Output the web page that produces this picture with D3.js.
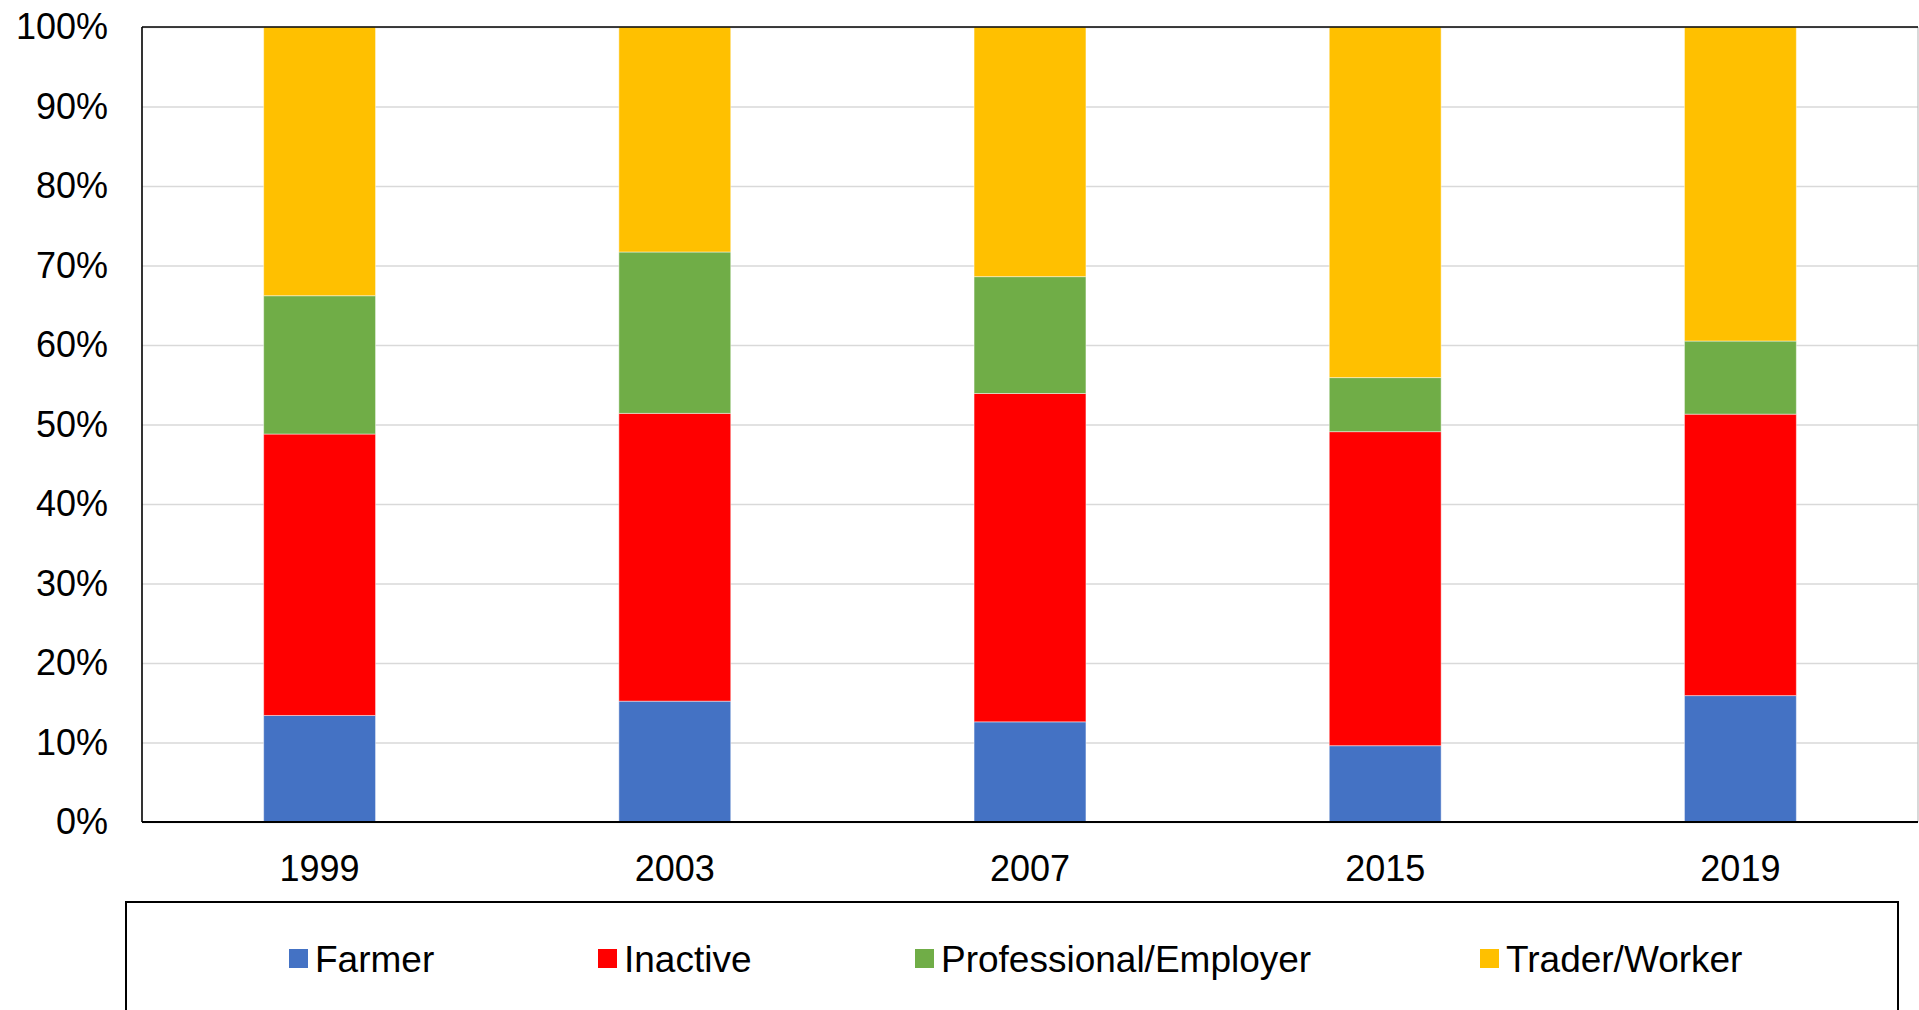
<!DOCTYPE html>
<html>
<head>
<meta charset="utf-8">
<script src="https://cdn.jsdelivr.net/npm/d3@7"></script>
<style>
  html, body { margin: 0; padding: 0; background: #fff; }
  svg { display: block; font-family: "Liberation Sans", Arial, sans-serif; }
</style>
</head>
<body>
<svg id="chart" width="1919" height="1010"></svg>
<script>
const years = ["1999", "2003", "2007", "2015", "2019"];
const seriesNames = ["Farmer", "Inactive", "Professional/Employer", "Trader/Worker"];
const farmer       = [13.4, 15.2, 12.6,  9.6, 15.9];
const inactive     = [35.4, 36.2, 41.3, 39.5, 35.4];
const professional = [17.4, 20.3, 14.7,  6.8,  9.2];
const trader       = [33.8, 28.3, 31.4, 44.1, 39.5];
const yTicks = [0, 0.1, 0.2, 0.3, 0.4, 0.5, 0.6, 0.7, 0.8, 0.9, 1.0];
const colors = ["#4472C4", "#FF0000", "#70AD47", "#FFC000"];

const seriesValues = [farmer, inactive, professional, trader];
const rows = years.map((yr, i) => {
  const r = { year: yr };
  const total = seriesValues.reduce((s, arr) => s + arr[i], 0);
  seriesNames.forEach((n, k) => { r[n] = seriesValues[k][i] / total; });
  return r;
});

const svg = d3.select("#chart");
const pLeft = 142, pRight = 1918, pTop = 27, pBottom = 822;

const x = d3.scaleBand().domain(years).range([pLeft, pRight])
  .paddingInner(0.685).paddingOuter(0.3425);
const y = d3.scaleLinear().domain([0, 1]).range([pBottom, pTop]);
const color = d3.scaleOrdinal().domain(seriesNames).range(colors);

// gridlines
svg.append("g")
  .attr("transform", `translate(${pLeft},0)`)
  .call(d3.axisLeft(y).tickValues(yTicks).tickSize(-(pRight - pLeft)).tickFormat(""))
  .call(g => g.select(".domain").remove())
  .call(g => g.selectAll("line").attr("stroke", "#D9D9D9").attr("stroke-width", 1.5));

// bars
const stacked = d3.stack().keys(seriesNames)(rows);
svg.append("g").selectAll("g").data(stacked).join("g")
  .attr("fill", d => color(d.key))
  .selectAll("rect").data(d => d).join("rect")
  .attr("x", d => x(d.data.year))
  .attr("width", x.bandwidth())
  .attr("y", d => y(d[1]))
  .attr("height", d => y(d[0]) - y(d[1]))
  .attr("stroke", "rgba(255,255,255,0.45)")
  .attr("stroke-width", 1);

// plot border
svg.append("line").attr("x1", pRight).attr("x2", pRight).attr("y1", pTop).attr("y2", pBottom)
  .attr("stroke", "#BFBFBF").attr("stroke-width", 1.2);
svg.append("line").attr("x1", pLeft).attr("x2", pRight).attr("y1", pTop).attr("y2", pTop)
  .attr("stroke", "#000").attr("stroke-width", 1.6);
svg.append("line").attr("x1", pLeft).attr("x2", pLeft).attr("y1", pTop).attr("y2", pBottom)
  .attr("stroke", "#000").attr("stroke-width", 1.6);

// y axis labels
const yAxis = svg.append("g")
  .attr("transform", `translate(${pLeft},0)`)
  .call(d3.axisLeft(y).tickValues(yTicks).tickSize(0).tickPadding(34).tickFormat(d3.format(".0%")));
yAxis.select(".domain").remove();
yAxis.selectAll("text").attr("font-size", 36).attr("fill", "#000")
  .attr("font-family", "Liberation Sans, Arial, sans-serif");

// x axis
const xAxis = svg.append("g")
  .attr("transform", `translate(0,${pBottom})`)
  .call(d3.axisBottom(x).tickSize(0).tickPadding(33));
xAxis.select(".domain").attr("stroke", "#000").attr("stroke-width", 2)
  .attr("d", `M${pLeft},0H${pRight}`);
xAxis.selectAll("text").attr("font-size", 36).attr("fill", "#000")
  .attr("font-family", "Liberation Sans, Arial, sans-serif");

// legend
svg.append("rect").attr("x", 126).attr("y", 902).attr("width", 1772).attr("height", 140)
  .attr("fill", "none").attr("stroke", "#000").attr("stroke-width", 2);
const legendX = [289, 598, 915, 1480];
const lg = svg.append("g").selectAll("g").data(seriesNames).join("g")
  .attr("transform", (d, i) => `translate(${legendX[i]},0)`);
lg.append("rect").attr("x", 0).attr("y", 949).attr("width", 19).attr("height", 19)
  .attr("fill", d => color(d));
lg.append("text").attr("x", 26).attr("y", 971.5).attr("font-size", 37).attr("fill", "#000")
  .attr("font-family", "Liberation Sans, Arial, sans-serif")
  .text(d => d);
</script>
</body>
</html>
